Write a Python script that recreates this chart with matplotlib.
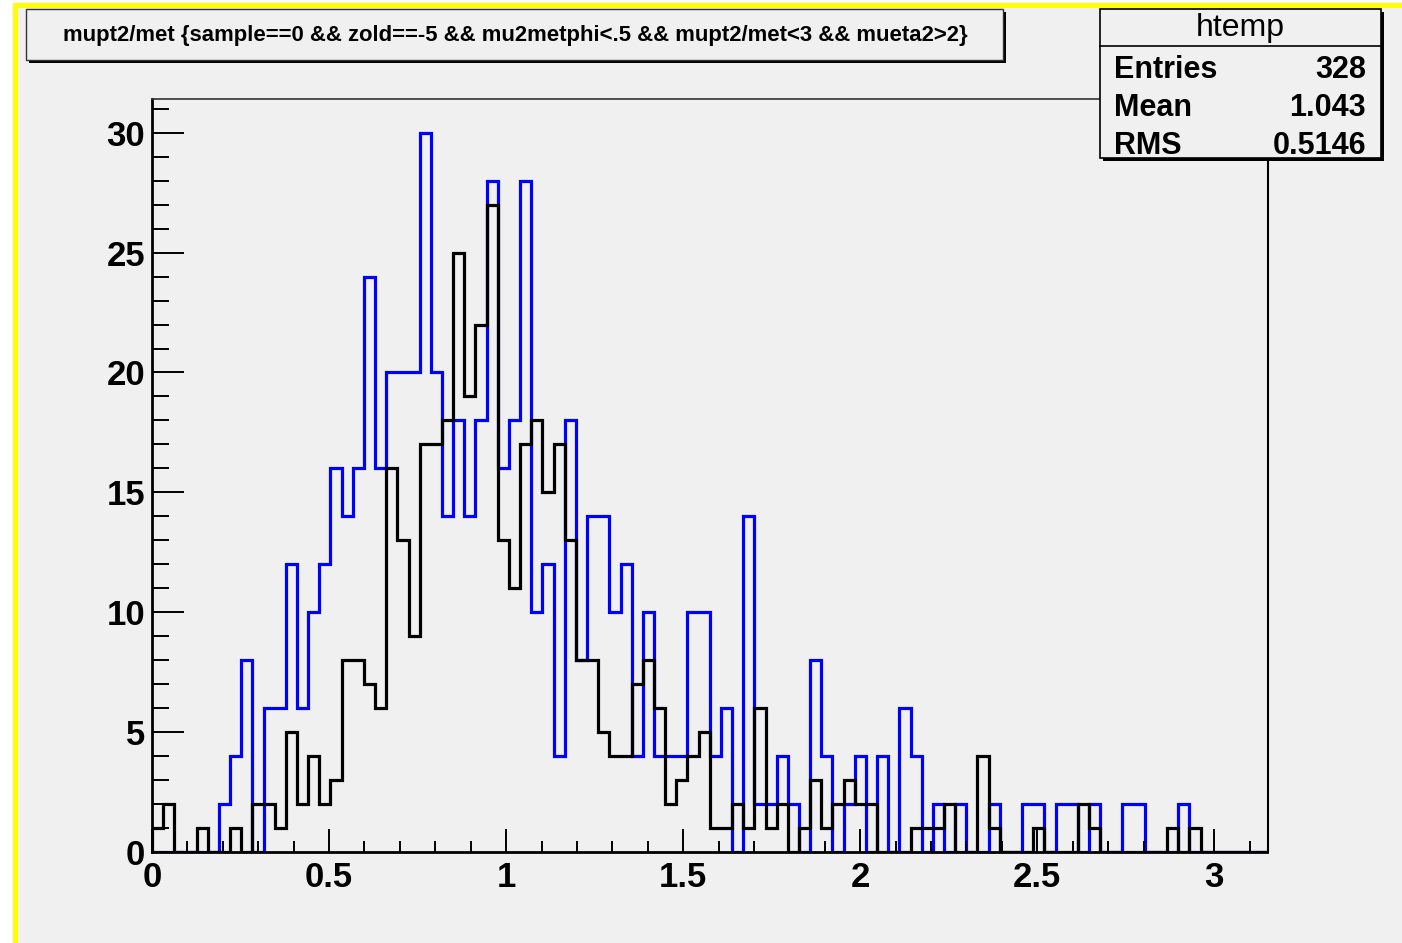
import numpy as np
import matplotlib
matplotlib.use('Agg')
import matplotlib.pyplot as plt
from matplotlib.patches import Rectangle
from matplotlib.ticker import MultipleLocator

plt.rcParams['font.family'] = ['Liberation Sans', 'DejaVu Sans']

# histogram: 100 bins from 0 to 3.15
n_bins = 100
x_max = 3.15

# blue histogram (counts per bin)
blue_counts = [0, 0, 0, 0, 0, 0, 2, 4, 8, 0,
               6, 6, 12, 6, 10, 12, 16, 14, 16, 24,
               16, 20, 20, 20, 30, 20, 14, 18, 14, 18,
               28, 16, 18, 28, 10, 12, 4, 18, 8, 14,
               14, 10, 12, 4, 10, 4, 4, 4, 10, 10,
               4, 6, 0, 14, 2, 2, 4, 2, 0, 8,
               4, 0, 2, 4, 0, 4, 0, 6, 4, 0,
               2, 0, 2, 0, 0, 2, 0, 0, 2, 2,
               0, 2, 2, 0, 2, 0, 0, 2, 2, 0,
               0, 0, 2, 0, 0, 0, 0, 0, 0, 0]

# black histogram (counts per bin)
black_counts = [1, 2, 0, 0, 1, 0, 0, 1, 0, 2,
                2, 1, 5, 2, 4, 2, 3, 8, 8, 7,
                6, 16, 13, 9, 17, 17, 18, 25, 19, 22,
                27, 13, 11, 17, 18, 15, 17, 13, 8, 8,
                5, 4, 4, 7, 8, 6, 2, 3, 4, 5,
                1, 1, 2, 1, 6, 1, 2, 0, 1, 3,
                1, 2, 3, 2, 2, 0, 0, 0, 1, 1,
                1, 2, 0, 0, 4, 1, 0, 0, 0, 1,
                0, 0, 0, 2, 1, 0, 0, 0, 0, 0,
                0, 1, 0, 1, 0, 0, 0, 0, 0, 0]

x_ticks = [0, 0.5, 1, 1.5, 2, 2.5, 3]
x_tick_labels = ['0', '0.5', '1', '1.5', '2', '2.5', '3']
y_ticks = [0, 5, 10, 15, 20, 25, 30]

title_text = 'mupt2/met {sample==0 && zold==-5 && mu2metphi<.5 && mupt2/met<3 && mueta2>2}'
stats_name = 'htemp'
stats_rows = [('Entries', '328'), ('Mean', '1.043'), ('RMS', '0.5146')]

W, H = 1402, 943
bg = '#f0f0f0'

fig = plt.figure(figsize=(W / 100, H / 100), dpi=100)
fig.patch.set_facecolor(bg)


def fx(x):
    return x / W


def fy(y):
    return 1 - y / H


def box(x0, y0, x1, y1, **kw):
    r = Rectangle((fx(x0), fy(y1)), fx(x1) - fx(x0), fy(y0) - fy(y1),
                  transform=fig.transFigure, **kw)
    fig.add_artist(r)
    return r


# white margin + yellow pad border (selected pad)
box(0, 0, 13, H, fc='white', ec='none', zorder=0.5)
box(0, 0, W, 3, fc='white', ec='none', zorder=0.5)
box(13, 3, 18, H, fc='#ffff00', ec='none', zorder=0.6)
box(13, 3, W, 8, fc='#ffff00', ec='none', zorder=0.6)

# axes / frame
ax = fig.add_axes([fx(152), fy(851.7), fx(1267.5) - fx(152), fy(99.3) - fy(851.7)])
ax.set_facecolor(bg)
edges = np.linspace(0, x_max, n_bins + 1)
ax.stairs(blue_counts, edges, color='#0000ff', linewidth=2.3)
ax.stairs(black_counts, edges, color='black', linewidth=2.3)
ax.set_xlim(0, x_max)
ax.set_ylim(0, 31.4)

ax.set_xticks(x_ticks)
ax.set_xticklabels(x_tick_labels)
ax.set_yticks(y_ticks)
ax.xaxis.set_minor_locator(MultipleLocator(0.1))
ax.yaxis.set_minor_locator(MultipleLocator(1))
ax.tick_params(axis='y', which='major', direction='in', length=23, width=1.4, pad=5,
               labelsize=25)
ax.tick_params(axis='y', which='minor', direction='in', length=12, width=1.4)
ax.tick_params(axis='x', which='major', direction='in', length=16.5, width=1.4, pad=7,
               labelsize=25)
ax.tick_params(axis='x', which='minor', direction='in', length=8, width=1.4)
for lab in ax.get_xticklabels() + ax.get_yticklabels():
    lab.set_fontweight('bold')

ax.spines['left'].set_linewidth(2.0)
ax.spines['bottom'].set_linewidth(2.0)
ax.spines['top'].set_linewidth(1.2)
ax.spines['right'].set_linewidth(1.5)
ax.spines['top'].set_color('#333333')

# title box with shadow
box(29, 12, 1006, 63, fc='black', ec='none', zorder=3)
box(26, 9, 1003, 60, fc=bg, ec='#333333', lw=1.0, zorder=3.1)
fig.text(fx(515), fy(35), title_text, ha='center', va='center',
         fontsize=15.9, fontweight='bold', zorder=4)

# stats box with shadow
box(1103, 12, 1384, 161, fc='black', ec='none', zorder=3)
box(1100, 9, 1381, 158, fc=bg, ec='black', lw=1.2, zorder=3.1)
fig.add_artist(plt.Line2D([fx(1100), fx(1381)], [fy(46), fy(46)],
                          transform=fig.transFigure, color='black', lw=1.2, zorder=3.2))
fig.text(fx(1240), fy(28), stats_name, ha='center', va='center', fontsize=23, zorder=4)
for i, (name, val) in enumerate(stats_rows):
    yy = fy(67 + 38 * i)
    fig.text(fx(1114), yy, name, ha='left', va='center_baseline', fontsize=22,
             fontweight='bold', zorder=4)
    fig.text(fx(1366), yy, val, ha='right', va='center_baseline', fontsize=22,
             fontweight='bold', zorder=4)

fig.savefig('out.png', dpi=100, facecolor=fig.get_facecolor())
